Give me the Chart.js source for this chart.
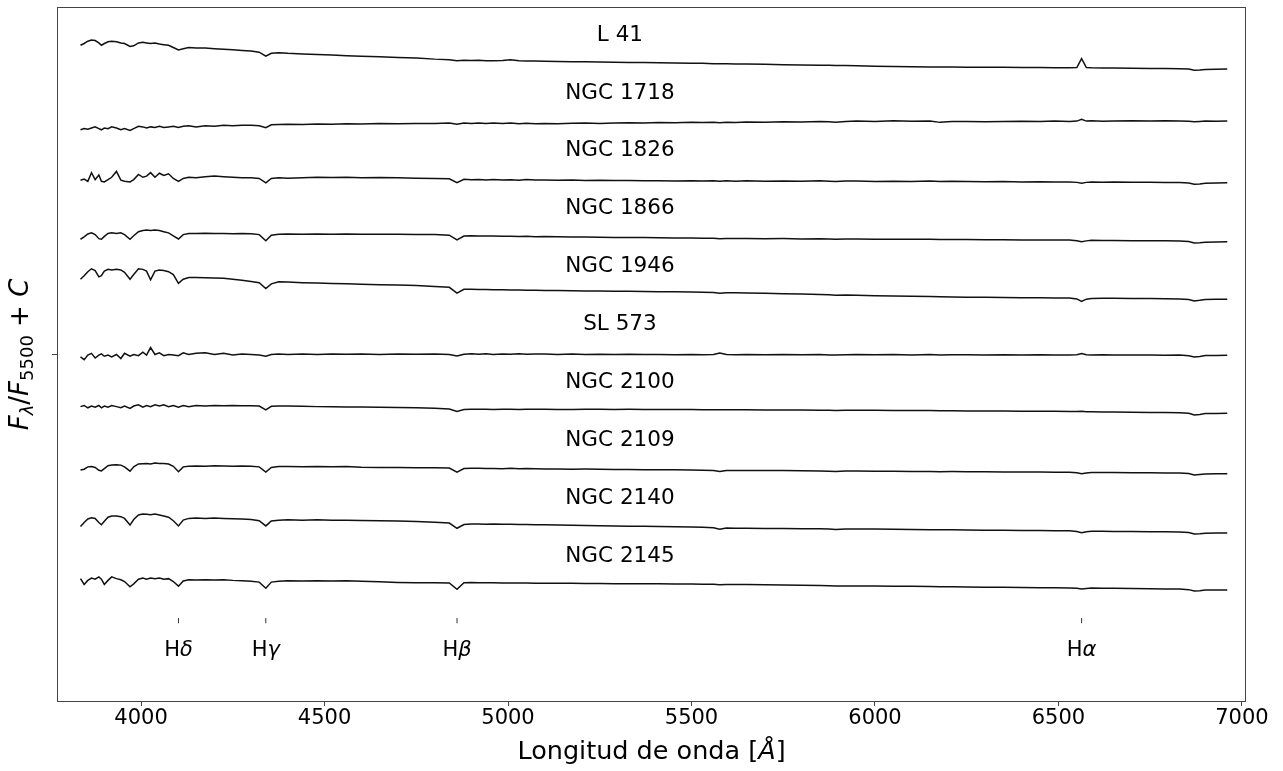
<!DOCTYPE html>
<html>
<head>
<meta charset="utf-8">
<script src="https://cdn.jsdelivr.net/npm/chart.js@4"></script>
<style>
  body { margin: 0; background: #fff; }
  canvas { display: block; }
</style>
</head>
<body>
<canvas id="spectra" width="1283" height="771"></canvas>
<script>
// wavelength grid (Angstrom), shared by every spectrum
const wavelength = [
  3835, 3845, 3855, 3865, 3875, 3885, 3892, 3900, 3910, 3920,
  3933, 3945, 3955, 3970, 3980, 3993, 4005, 4015, 4026, 4038,
  4050, 4062, 4075, 4088, 4102, 4115, 4130, 4150, 4175, 4200,
  4225, 4250, 4275, 4300, 4322, 4340, 4355, 4375, 4400, 4440,
  4480, 4520, 4560, 4600, 4650, 4700, 4750, 4800, 4840, 4861,
  4880, 4900, 4920, 4940, 4960, 4985, 5007, 5030, 5050, 5075,
  5100, 5135, 5175, 5210, 5250, 5290, 5330, 5370, 5410, 5455,
  5500, 5530, 5560, 5577, 5595, 5620, 5650, 5700, 5750, 5800,
  5850, 5875, 5893, 5920, 5950, 6000, 6050, 6100, 6150, 6177,
  6210, 6250, 6300, 6350, 6400, 6450, 6490, 6530, 6550, 6563,
  6576, 6590, 6620, 6650, 6700, 6750, 6790, 6830, 6855, 6870,
  6885, 6900, 6930, 6960
];

const clusters = ["L 41", "NGC 1718", "NGC 1826", "NGC 1866", "NGC 1946",
                  "SL 573", "NGC 2100", "NGC 2109", "NGC 2140", "NGC 2145"];
const offsets = [10, 9, 8, 7, 6, 5, 4, 3, 2, 1];

// F_lambda / F_5500 for each cluster
const fluxL41 = [
  1.34, 1.37, 1.41, 1.43, 1.42, 1.38, 1.34, 1.37, 1.40, 1.41,
  1.40, 1.38, 1.37, 1.32, 1.33, 1.38, 1.39, 1.38, 1.37, 1.38,
  1.36, 1.35, 1.34, 1.30, 1.26, 1.28, 1.30, 1.29, 1.29, 1.28,
  1.27, 1.26, 1.25, 1.24, 1.22, 1.15, 1.20, 1.21, 1.20, 1.19,
  1.18, 1.17, 1.16, 1.15, 1.14, 1.13, 1.12, 1.10, 1.09, 1.07,
  1.080, 1.078, 1.080, 1.074, 1.072, 1.075, 1.090, 1.070, 1.068, 1.066,
  1.062, 1.060, 1.056, 1.054, 1.050, 1.046, 1.042, 1.040, 1.036, 1.034,
  1.030, 1.027, 1.022, 1.020, 1.019, 1.017, 1.015, 1.010, 1.005, 1.000,
  0.995, 0.993, 0.990, 0.989, 0.985, 0.978, 0.972, 0.968, 0.965, 0.963,
  0.962, 0.960, 0.959, 0.958, 0.956, 0.955, 0.952, 0.950, 0.955, 1.110,
  0.955, 0.950, 0.948, 0.945, 0.943, 0.940, 0.938, 0.935, 0.930, 0.910,
  0.912, 0.920, 0.925, 0.930
];
const flux1718 = [
  0.88, 0.90, 0.89, 0.91, 0.93, 0.90, 0.88, 0.91, 0.90, 0.93,
  0.91, 0.88, 0.90, 0.87, 0.90, 0.94, 0.93, 0.91, 0.93, 0.92,
  0.94, 0.92, 0.93, 0.94, 0.92, 0.94, 0.95, 0.93, 0.95, 0.94,
  0.96, 0.95, 0.96, 0.96, 0.95, 0.915, 0.965, 0.97, 0.975, 0.97,
  0.98, 0.975, 0.985, 0.98, 0.99, 0.985, 0.99, 0.99, 0.995, 0.975,
  0.995, 0.990, 0.998, 0.988, 0.995, 0.990, 0.997, 0.986, 0.992, 0.985,
  0.990, 0.984, 0.992, 0.995, 0.990, 0.998, 1.000, 0.996, 1.005, 1.002,
  1.010, 1.004, 1.008, 1.000, 1.010, 1.006, 1.015, 1.010, 1.020, 1.016,
  1.025, 1.018, 1.012, 1.024, 1.030, 1.024, 1.035, 1.028, 1.030, 1.008,
  1.022, 1.025, 1.018, 1.022, 1.028, 1.025, 1.030, 1.025, 1.030, 1.060,
  1.030, 1.035, 1.028, 1.032, 1.036, 1.032, 1.036, 1.030, 1.026, 1.018,
  1.024, 1.030, 1.026, 1.030
];
const flux1826 = [
  1.01, 1.03, 0.99, 1.14, 1.02, 1.10, 0.99, 0.98, 1.02, 1.06,
  1.16, 1.01, 0.99, 0.98, 1.02, 1.11, 1.06, 1.08, 1.14, 1.06,
  1.13, 1.09, 1.12, 1.04, 0.99, 1.04, 1.06, 1.05, 1.07, 1.08,
  1.07, 1.06, 1.05, 1.05, 1.04, 0.965, 1.04, 1.05, 1.045, 1.05,
  1.06, 1.055, 1.06, 1.05, 1.055, 1.05, 1.045, 1.04, 1.035, 0.965,
  1.025, 1.018, 1.022, 1.014, 1.020, 1.012, 1.018, 1.010, 1.020, 1.012,
  1.015, 1.008, 1.012, 1.005, 1.010, 1.003, 1.006, 1.000, 1.002, 0.996,
  1.000, 0.994, 0.998, 0.990, 0.998, 0.992, 1.000, 0.993, 0.996, 0.990,
  0.998, 0.992, 0.986, 0.994, 0.995, 0.988, 0.992, 0.986, 0.994, 0.985,
  0.990, 0.988, 0.984, 0.987, 0.980, 0.984, 0.978, 0.980, 0.972, 0.958,
  0.972, 0.980, 0.974, 0.978, 0.972, 0.975, 0.968, 0.970, 0.960, 0.940,
  0.945, 0.958, 0.960, 0.965
];
const flux1866 = [
  0.99, 1.03, 1.08, 1.10, 1.07, 1.00, 0.99, 1.04, 1.09, 1.10,
  1.09, 1.10, 1.07, 0.99, 1.05, 1.12, 1.14, 1.15, 1.14, 1.15,
  1.14, 1.12, 1.10, 1.05, 0.995, 1.07, 1.09, 1.09, 1.095, 1.09,
  1.09, 1.085, 1.09, 1.085, 1.07, 0.965, 1.06, 1.075, 1.08, 1.075,
  1.08, 1.075, 1.08, 1.075, 1.078, 1.075, 1.07, 1.07, 1.06, 0.977,
  1.045, 1.052, 1.048, 1.044, 1.046, 1.040, 1.042, 1.038, 1.040, 1.035,
  1.036, 1.032, 1.030, 1.028, 1.026, 1.022, 1.020, 1.018, 1.016, 1.012,
  1.012, 1.008, 1.006, 0.998, 1.004, 1.002, 1.005, 1.000, 1.001, 0.996,
  0.998, 0.994, 0.988, 0.995, 0.995, 0.991, 0.990, 0.988, 0.988, 0.984,
  0.986, 0.985, 0.982, 0.982, 0.979, 0.978, 0.976, 0.975, 0.965, 0.945,
  0.962, 0.972, 0.968, 0.970, 0.966, 0.965, 0.962, 0.960, 0.950, 0.925,
  0.930, 0.940, 0.943, 0.945
];
const flux1946 = [
  1.30, 1.36, 1.43, 1.48, 1.45, 1.34, 1.36, 1.44, 1.47, 1.46,
  1.47, 1.46, 1.42, 1.30, 1.38, 1.48, 1.47, 1.44, 1.29, 1.44,
  1.46, 1.45, 1.43, 1.38, 1.23, 1.30, 1.33, 1.33, 1.325, 1.32,
  1.315, 1.30, 1.28, 1.26, 1.24, 1.14, 1.22, 1.255, 1.25, 1.24,
  1.235, 1.225, 1.22, 1.215, 1.205, 1.20, 1.19, 1.175, 1.16, 1.06,
  1.125, 1.128, 1.124, 1.122, 1.120, 1.118, 1.115, 1.113, 1.110, 1.108,
  1.105, 1.103, 1.100, 1.097, 1.095, 1.092, 1.090, 1.087, 1.085, 1.082,
  1.080, 1.076, 1.072, 1.058, 1.068, 1.065, 1.062, 1.056, 1.050, 1.044,
  1.036, 1.030, 1.022, 1.026, 1.024, 1.016, 1.010, 1.005, 1.000, 0.996,
  0.994, 0.990, 0.988, 0.985, 0.982, 0.978, 0.976, 0.974, 0.960, 0.915,
  0.955, 0.968, 0.970, 0.970, 0.967, 0.965, 0.963, 0.960, 0.950, 0.925,
  0.935, 0.950, 0.953, 0.955
];
const fluxSL573 = [
  0.96, 0.91, 0.99, 1.02, 0.94, 0.99, 1.01, 0.97, 0.99, 0.96,
  1.0, 0.93, 1.02, 0.97, 1.0, 0.98, 1.04, 0.99, 1.12, 1.0,
  1.03, 0.98, 1.0, 0.99, 0.98, 1.03, 1.0, 1.02, 1.03, 1.0,
  1.02, 0.99, 1.01, 1.0, 0.99, 0.97, 1.0, 1.01, 1.0, 1.01,
  1.0, 1.01, 1.005, 1.01, 1.0, 1.01, 1.005, 1.01, 1.0, 0.975,
  1.005, 1.012, 1.006, 1.012, 1.000, 1.010, 1.006, 1.012, 1.004, 1.010,
  1.008, 1.002, 1.008, 1.001, 1.006, 0.998, 1.004, 0.998, 1.002, 0.996,
  0.998, 0.994, 1.000, 1.025, 1.000, 0.996, 1.000, 0.995, 1.000, 0.994,
  0.998, 0.993, 0.990, 0.996, 1.000, 0.994, 0.998, 0.993, 0.999, 0.992,
  0.996, 0.995, 0.990, 0.994, 0.990, 0.995, 0.990, 0.992, 0.995, 1.018,
  0.995, 0.990, 0.994, 0.990, 0.993, 0.992, 0.988, 0.990, 0.980, 0.957,
  0.965, 0.982, 0.984, 0.985
];
const flux2100 = [
  1.10, 1.12, 1.08, 1.11, 1.09, 1.12, 1.08, 1.11, 1.09, 1.12,
  1.10, 1.08, 1.11, 1.07, 1.11, 1.13, 1.09, 1.12, 1.10, 1.13,
  1.11, 1.13, 1.10, 1.12, 1.09, 1.12, 1.10, 1.12, 1.11, 1.12,
  1.115, 1.12, 1.115, 1.115, 1.11, 1.045, 1.105, 1.11, 1.11, 1.105,
  1.10, 1.10, 1.095, 1.095, 1.09, 1.085, 1.08, 1.07, 1.06, 1.015,
  1.050, 1.054, 1.056, 1.053, 1.052, 1.055, 1.054, 1.052, 1.053, 1.055,
  1.054, 1.052, 1.052, 1.054, 1.053, 1.052, 1.053, 1.051, 1.050, 1.050,
  1.049, 1.047, 1.046, 1.044, 1.046, 1.045, 1.044, 1.042, 1.041, 1.040,
  1.039, 1.037, 1.034, 1.037, 1.038, 1.036, 1.035, 1.033, 1.031, 1.030,
  1.028, 1.026, 1.025, 1.024, 1.022, 1.020, 1.018, 1.016, 1.014, 1.020,
  1.012, 1.010, 1.008, 1.006, 1.003, 1.000, 0.998, 0.995, 0.985, 0.957,
  0.965, 0.980, 0.983, 0.985
];
const flux2109 = [
  1.005, 1.02, 1.06, 1.065, 1.05, 1.00, 0.99, 1.03, 1.08, 1.09,
  1.095, 1.09, 1.06, 0.985, 1.06, 1.11, 1.115, 1.12, 1.11, 1.125,
  1.12, 1.12, 1.11, 1.07, 0.975, 1.06, 1.07, 1.075, 1.07, 1.08,
  1.075, 1.07, 1.075, 1.07, 1.06, 0.97, 1.05, 1.065, 1.065, 1.06,
  1.065, 1.06, 1.065, 1.055, 1.05, 1.048, 1.045, 1.045, 1.04, 0.97,
  1.030, 1.036, 1.034, 1.030, 1.032, 1.028, 1.034, 1.028, 1.030, 1.026,
  1.025, 1.022, 1.020, 1.022, 1.019, 1.016, 1.015, 1.012, 1.010, 1.008,
  1.005, 1.000, 0.998, 0.978, 0.996, 0.998, 0.998, 0.995, 0.995, 0.991,
  0.990, 0.986, 0.982, 0.988, 0.989, 0.986, 0.985, 0.982, 0.980, 0.977,
  0.978, 0.975, 0.974, 0.972, 0.971, 0.970, 0.968, 0.966, 0.958, 0.940,
  0.955, 0.963, 0.962, 0.961, 0.960, 0.958, 0.956, 0.954, 0.945, 0.920,
  0.928, 0.938, 0.940, 0.940
];
const flux2140 = [
  1.03, 1.10, 1.16, 1.18, 1.17, 1.10, 1.06, 1.12, 1.19, 1.21,
  1.21, 1.20, 1.17, 1.055, 1.15, 1.23, 1.245, 1.24, 1.235, 1.245,
  1.23, 1.21, 1.19, 1.13, 1.04, 1.14, 1.17, 1.175, 1.17, 1.175,
  1.17, 1.165, 1.16, 1.15, 1.13, 1.04, 1.125, 1.14, 1.145, 1.14,
  1.145, 1.14, 1.14, 1.135, 1.13, 1.125, 1.115, 1.105, 1.09, 1.0,
  1.065, 1.072, 1.075, 1.070, 1.074, 1.068, 1.070, 1.064, 1.065, 1.060,
  1.060, 1.054, 1.050, 1.047, 1.045, 1.040, 1.036, 1.033, 1.030, 1.026,
  1.021, 1.016, 1.010, 0.985, 1.004, 1.002, 1.000, 0.996, 0.995, 0.990,
  0.990, 0.986, 0.980, 0.987, 0.988, 0.985, 0.984, 0.979, 0.976, 0.974,
  0.972, 0.970, 0.967, 0.965, 0.962, 0.960, 0.957, 0.955, 0.945, 0.922,
  0.940, 0.950, 0.947, 0.945, 0.942, 0.940, 0.938, 0.935, 0.925, 0.900,
  0.905, 0.915, 0.918, 0.920
];
const flux2145 = [
  1.13, 1.03, 1.10, 1.14, 1.12, 1.16, 1.12, 1.03, 1.10, 1.16,
  1.13, 1.11, 1.08, 0.99, 1.04, 1.12, 1.14, 1.12, 1.14, 1.13,
  1.14, 1.12, 1.13, 1.08, 1.0, 1.09, 1.11, 1.105, 1.11, 1.105,
  1.11, 1.10, 1.095, 1.085, 1.07, 0.965, 1.07, 1.085, 1.095, 1.09,
  1.095, 1.09, 1.095, 1.085, 1.075, 1.065, 1.06, 1.06, 1.055, 0.946,
  1.060, 1.064, 1.060, 1.058, 1.058, 1.055, 1.056, 1.053, 1.055, 1.051,
  1.050, 1.050, 1.050, 1.046, 1.045, 1.043, 1.042, 1.041, 1.040, 1.039,
  1.038, 1.034, 1.031, 1.025, 1.030, 1.030, 1.030, 1.025, 1.020, 1.015,
  1.010, 1.007, 1.003, 1.005, 1.005, 1.002, 1.000, 0.997, 0.995, 0.991,
  0.988, 0.985, 0.982, 0.980, 0.976, 0.972, 0.971, 0.970, 0.964, 0.952,
  0.961, 0.968, 0.965, 0.962, 0.958, 0.955, 0.952, 0.950, 0.940, 0.917,
  0.922, 0.932, 0.933, 0.934
];
const fluxes = [fluxL41, flux1718, flux1826, flux1866, flux1946,
                fluxSL573, flux2100, flux2109, flux2140, flux2145];

// Balmer lines marked under the spectra
const balmerNames = ["δ", "γ", "β", "α"];
const balmerCenters = [4102, 4340, 4861, 6563];
const markLow = 1.36, markHigh = 1.45;

const xTicks = [4000, 4500, 5000, 5500, 6000, 6500, 7000];
const FONT = "'DejaVu Sans', sans-serif";

const datasets = clusters.map((name, i) => ({
  label: name,
  data: wavelength.map((w, j) => ({ x: w, y: offsets[i] + fluxes[i][j] })),
  borderColor: "#111",
  borderWidth: 1.5,
  pointRadius: 0,
  tension: 0,
  fill: false
}));
balmerCenters.forEach(w => {
  datasets.push({
    label: "",
    data: [{ x: w, y: markLow }, { x: w, y: markHigh }],
    borderColor: "#333",
    borderWidth: 1,
    pointRadius: 0
  });
});

// draws text made of runs with different fonts, centred on cx
function drawRuns(ctx, parts, cx, baseline) {
  let w = 0;
  parts.forEach(p => { ctx.font = p.font; w += ctx.measureText(p.t).width; });
  let x = cx - w / 2;
  parts.forEach(p => {
    ctx.font = p.font;
    ctx.fillText(p.t, x, baseline + (p.dy || 0));
    x += ctx.measureText(p.t).width;
  });
}

const decorations = {
  id: "decorations",
  afterDraw(chart) {
    const { ctx, chartArea: a, scales: { x, y } } = chart;
    ctx.save();
    ctx.strokeStyle = "#444";
    ctx.lineWidth = 1;
    ctx.strokeRect(a.left + 0.5, a.top + 0.5, a.right - a.left - 1, a.bottom - a.top - 1);

    ctx.fillStyle = "#000";
    ctx.textBaseline = "alphabetic";
    ctx.textAlign = "left";

    // cluster names above each spectrum
    clusters.forEach((name, i) => {
      drawRuns(ctx, [{ t: name, font: `21.5px ${FONT}` }],
        x.getPixelForValue(5305), y.getPixelForValue(offsets[i] + 1.42));
    });

    // Balmer line labels
    balmerCenters.forEach((w, i) => {
      drawRuns(ctx, [
        { t: "H", font: `21px ${FONT}` },
        { t: balmerNames[i], font: `italic 21px ${FONT}` }
      ], x.getPixelForValue(w), y.getPixelForValue(0.79));
    });

    // x axis title
    drawRuns(ctx, [
      { t: "Longitud de onda [", font: `25.5px ${FONT}` },
      { t: "Å", font: `italic 25.5px ${FONT}` },
      { t: "]", font: `25.5px ${FONT}` }
    ], (a.left + a.right) / 2, 759);

    // y axis title
    ctx.translate(28, (a.top + a.bottom) / 2);
    ctx.rotate(-Math.PI / 2);
    drawRuns(ctx, [
      { t: "F", font: `italic 26px ${FONT}` },
      { t: "λ", font: `italic 18px ${FONT}`, dy: 5 },
      { t: "/", font: `26px ${FONT}` },
      { t: "F", font: `italic 26px ${FONT}` },
      { t: "5500", font: `18px ${FONT}`, dy: 5 },
      { t: " + ", font: `26px ${FONT}` },
      { t: "C", font: `italic 26px ${FONT}` }
    ], 0, 0);
    ctx.restore();
  }
};

new Chart(document.getElementById("spectra"), {
  type: "line",
  data: { datasets },
  plugins: [decorations],
  options: {
    responsive: false,
    animation: false,
    events: [],
    layout: { padding: { left: 0, right: 37, top: 7, bottom: 0 } },
    plugins: { legend: { display: false }, tooltip: { enabled: false } },
    scales: {
      x: {
        type: "linear",
        min: 3771,
        max: 7011,
        afterBuildTicks: ax => { ax.ticks = xTicks.map(v => ({ value: v })); },
        afterFit: ax => { ax.height = 69; },
        grid: { drawOnChartArea: false, tickLength: 4, color: "#444" },
        border: { display: false },
        ticks: {
          color: "#000",
          font: { family: FONT, size: 21 },
          padding: 0,
          maxRotation: 0,
          autoSkip: false,
          callback: v => String(v)
        }
      },
      y: {
        min: 0,
        max: 12,
        afterBuildTicks: ax => { ax.ticks = [{ value: 6 }]; },
        afterFit: ax => { ax.width = 57; },
        grid: { drawOnChartArea: false, tickLength: 5, color: "#444" },
        border: { display: false },
        ticks: { display: false }
      }
    }
  }
});
</script>
